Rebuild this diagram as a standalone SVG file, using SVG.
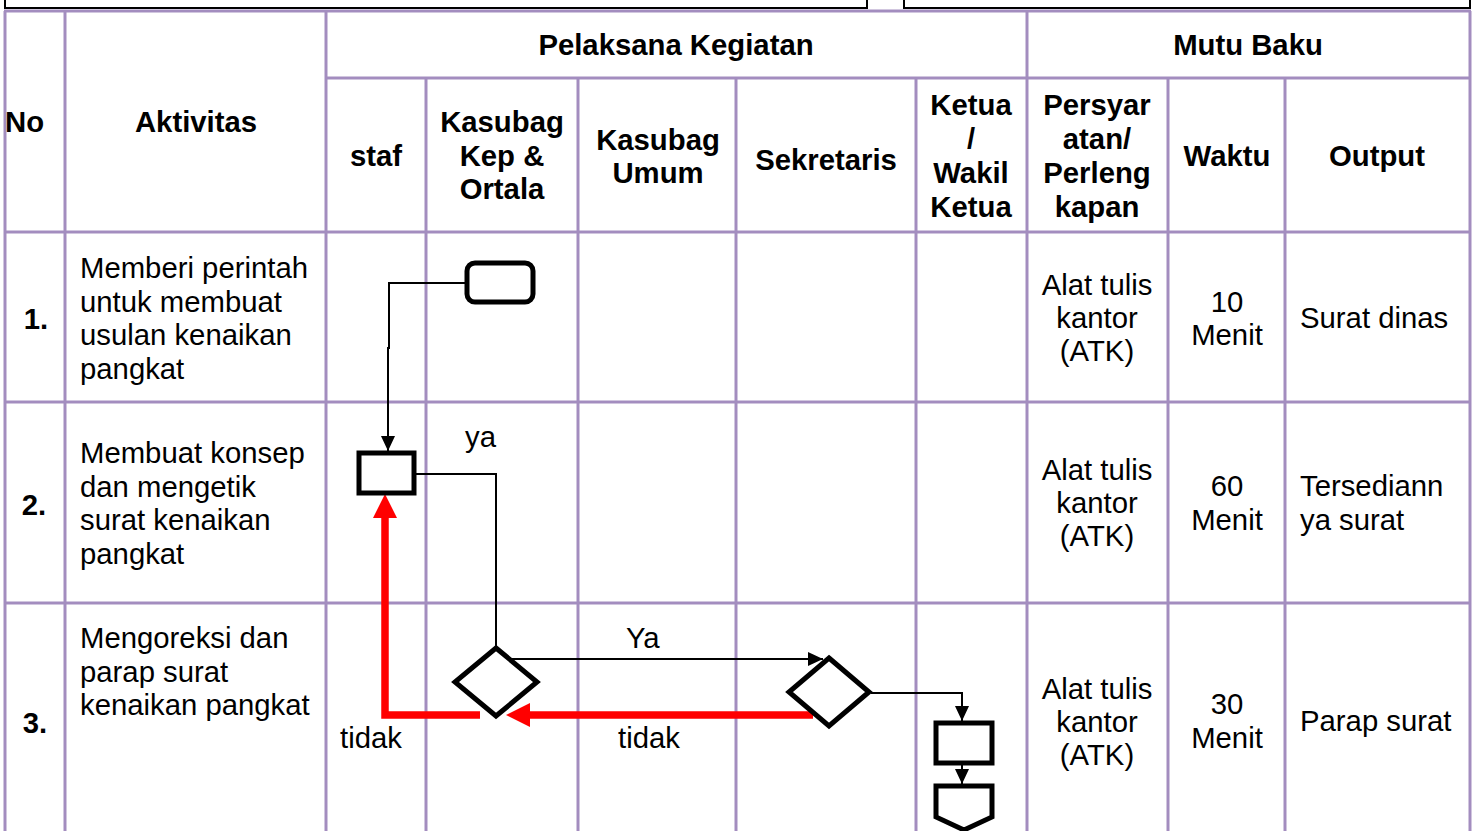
<svg xmlns="http://www.w3.org/2000/svg" width="1476" height="831" viewBox="0 0 1476 831">
<defs>
<style>
.g{stroke:#A38DBF;stroke-width:3;fill:none}
.t{font-family:"Liberation Sans",Arial,sans-serif;font-size:29.3px;fill:#000}
.b{font-weight:bold}
.m{text-anchor:middle}
.s{fill:#fff;stroke:#000;stroke-width:5}
.c{fill:none;stroke:#000;stroke-width:2}
.r{fill:none;stroke:#FF0000;stroke-width:7.5}
</style>
<marker id="ah" markerUnits="userSpaceOnUse" markerWidth="16" markerHeight="16" refX="15" refY="7" orient="auto">
<path d="M0,0 L15,7 L0,14 Z" fill="#000"/>
</marker>
</defs>
<rect width="1476" height="831" fill="#fff"/>
<g id="topboxes">
<rect x="5" y="-10" width="862" height="18" fill="none" stroke="#000" stroke-width="2"/>
<rect x="904" y="-10" width="566" height="18" fill="none" stroke="#000" stroke-width="2"/>
</g>
<g id="grid" class="g">
<line x1="4" y1="11" x2="1471" y2="11"/>
<line x1="326" y1="78" x2="1471" y2="78"/>
<line x1="4" y1="232" x2="1471" y2="232"/>
<line x1="4" y1="402" x2="1471" y2="402"/>
<line x1="4" y1="603" x2="1471" y2="603"/>
<line x1="5" y1="11" x2="5" y2="831"/>
<line x1="65" y1="11" x2="65" y2="831"/>
<line x1="326" y1="11" x2="326" y2="831"/>
<line x1="426" y1="78" x2="426" y2="831"/>
<line x1="578" y1="78" x2="578" y2="831"/>
<line x1="736" y1="78" x2="736" y2="831"/>
<line x1="916" y1="78" x2="916" y2="831"/>
<line x1="1027" y1="11" x2="1027" y2="831"/>
<line x1="1168" y1="78" x2="1168" y2="831"/>
<line x1="1285" y1="78" x2="1285" y2="831"/>
<line x1="1470" y1="11" x2="1470" y2="831"/>
</g>
<g id="header" class="t b">
<text x="5" y="132">No</text>
<text x="196" y="132" class="m">Aktivitas</text>
<text x="676" y="55" class="m">Pelaksana Kegiatan</text>
<text x="1248" y="55" class="m">Mutu Baku</text>
<text x="376" y="166" class="m">staf</text>
<text x="502" y="132" class="m">Kasubag</text>
<text x="502" y="166" class="m">Kep &amp;</text>
<text x="502" y="199" class="m">Ortala</text>
<text x="658" y="150" class="m">Kasubag</text>
<text x="658" y="183" class="m">Umum</text>
<text x="826" y="170" class="m">Sekretaris</text>
<text x="971" y="115" class="m">Ketua</text>
<text x="971" y="149" class="m">/</text>
<text x="971" y="183" class="m">Wakil</text>
<text x="971" y="217" class="m">Ketua</text>
<text x="1097" y="115" class="m">Persyar</text>
<text x="1097" y="149" class="m">atan/</text>
<text x="1097" y="183" class="m">Perleng</text>
<text x="1097" y="217" class="m">kapan</text>
<text x="1227" y="166" class="m">Waktu</text>
<text x="1377" y="166" class="m">Output</text>
</g>
<g id="row1" class="t">
<text x="36" y="329" class="m b">1.</text>
<text x="80" y="278">Memberi perintah</text>
<text x="80" y="311.5">untuk membuat</text>
<text x="80" y="345">usulan kenaikan</text>
<text x="80" y="378.5">pangkat</text>
<text x="1097" y="295" class="m">Alat tulis</text>
<text x="1097" y="328" class="m">kantor</text>
<text x="1097" y="361" class="m">(ATK)</text>
<text x="1227" y="312" class="m">10</text>
<text x="1227" y="345" class="m">Menit</text>
<text x="1300" y="328">Surat dinas</text>
</g>
<g id="row2" class="t">
<text x="34" y="515" class="m b">2.</text>
<text x="80" y="463">Membuat konsep</text>
<text x="80" y="496.5">dan mengetik</text>
<text x="80" y="530">surat kenaikan</text>
<text x="80" y="563.5">pangkat</text>
<text x="1097" y="480" class="m">Alat tulis</text>
<text x="1097" y="513" class="m">kantor</text>
<text x="1097" y="546" class="m">(ATK)</text>
<text x="1227" y="496" class="m">60</text>
<text x="1227" y="530" class="m">Menit</text>
<text x="1300" y="496">Tersediann</text>
<text x="1300" y="530">ya surat</text>
</g>
<g id="row3" class="t">
<text x="35" y="733" class="m b">3.</text>
<text x="80" y="648">Mengoreksi dan</text>
<text x="80" y="681.5">parap surat</text>
<text x="80" y="715">kenaikan pangkat</text>
<text x="1097" y="699" class="m">Alat tulis</text>
<text x="1097" y="732" class="m">kantor</text>
<text x="1097" y="765" class="m">(ATK)</text>
<text x="1227" y="714" class="m">30</text>
<text x="1227" y="748" class="m">Menit</text>
<text x="1300" y="731">Parap surat</text>
</g>
<g id="connectors">
<path class="c" d="M467,283 H389 V348 H388 V451" marker-end="url(#ah)"/>
<path class="c" d="M416,474 H496 V648"/>
<path class="c" d="M512,659 H823" marker-end="url(#ah)"/>
<path class="c" d="M871,693 H962 V721" marker-end="url(#ah)"/>
<path class="c" d="M962,761 V784" marker-end="url(#ah)"/>
<path class="r" d="M480,715 H385 V516"/>
<polygon points="385,494 373,518 397,518" fill="#FF0000"/>
<path class="r" d="M813,715 H528"/>
<polygon points="506,715 530,703 530,727" fill="#FF0000"/>
</g>
<g id="labels" class="t">
<text x="465" y="447">ya</text>
<text x="626" y="648">Ya</text>
<text x="340" y="748">tidak</text>
<text x="618" y="748">tidak</text>
</g>
<g id="n-start"><rect class="s" x="467" y="263" width="66" height="39" rx="8"/></g>
<g id="n-konsep"><rect class="s" x="359" y="453" width="55" height="40"/></g>
<g id="n-dec1"><polygon class="s" points="496,648 537,682 496,716 455,682"/></g>
<g id="n-dec2"><polygon class="s" points="829,658 869,692 829,726 789,692"/></g>
<g id="n-parap"><rect class="s" x="936" y="723" width="56" height="40"/></g>
<g id="n-offpage"><polygon class="s" points="936,786 992,786 992,817 964,830 936,817"/></g>
</svg>
